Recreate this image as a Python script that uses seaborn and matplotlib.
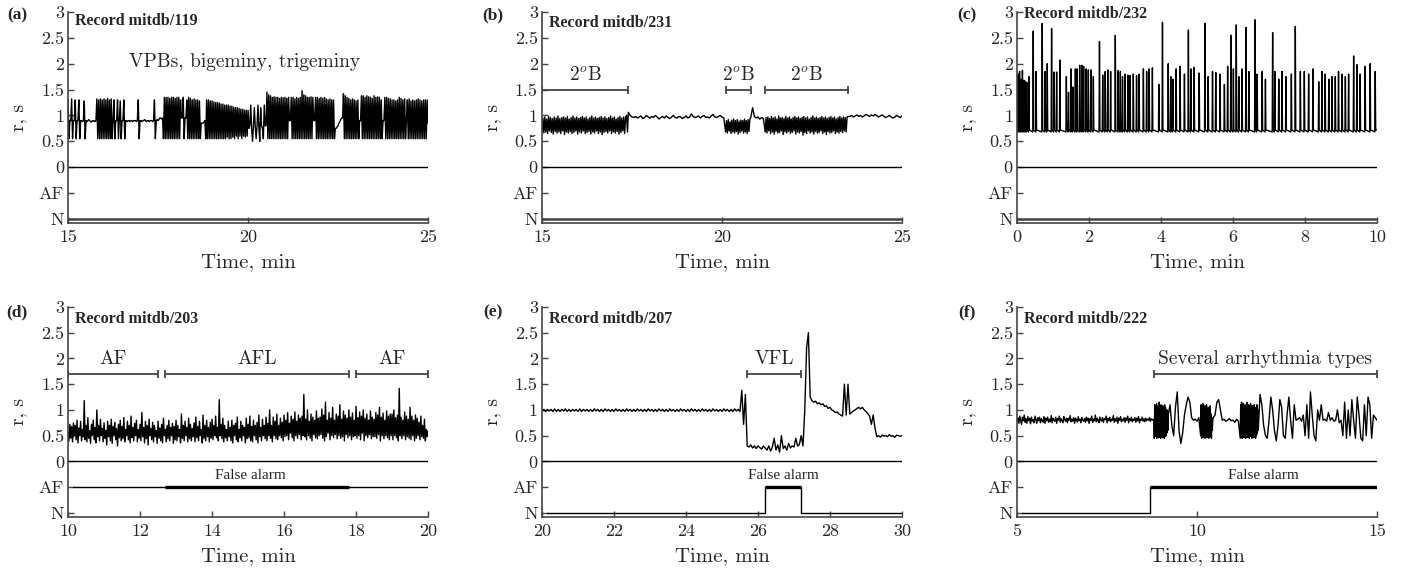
import numpy as np
import matplotlib
matplotlib.use("Agg")
import matplotlib.pyplot as plt
import seaborn as sns

# ---------------- datos ----------------
# (a) registro mitdb/119, 15-25 min, un valor RR (s) cada 0.025 min
rr_119 = [1.3, .55, .9, .9, 1.32, .55, .9, .9, 1.3, .55, .9, .9, 1.3, .55, .9, .9, .88, .9, 1.28, .55,
          .9, .88, .9, .92, .9, .88, .87, .9, .89, .9, .88, .9, 1.32, .55, 1.3, .55, 1.32, .55, 1.3, .55,
          1.32, .55, 1.3, .55, 1.33, .55, 1.3, .55, 1.32, .55, .9, 1.3, .55, .9, .9, 1.3, .55, .9, 1.28, .55,
          .9, .9, 1.3, .55, .9, .9, .88, .9, .9, .88, .9, .9, .88, .9, .9, .9, .88, .9, 1.3, .55,
          .9, .9, .88, .9, .9, .92, .9, .88, .9, .9, .88, .9, .9, .9, .88, .9, 1.3, .55, .9, .92,
          .9, .92, .95, .95, .93, .95, .55, 1.35, .55, 1.35, .55, 1.35, .55, 1.33, .55, 1.35, .55, 1.35, .55, 1.33,
          .55, 1.35, .55, 1.35, .55, 1.3, .95, .95, 1.35, .55, .95, .95, 1.3, .55, 1.35, .55, 1.33, .55, 1.3, .55,
          1.32, .55, 1.3, .55, 1.3, .55, 1.28, .55, .85, .85, .85, .87, .9, .55, 1.3, .55, 1.3, .55, 1.28, .55,
          1.28, .55, 1.26, .55, 1.25, .55, 1.25, .55, 1.24, .55, 1.22, .55, 1.22, .55, 1.2, .55, 1.2, .58, 1.2, .55,
          1.18, .55, 1.18, .58, 1.16, .55, 1.15, .6, 1.15, .55, 1.14, .6, 1.12, .55, 1.12, .6, 1.1, .58, 1.1, .6,
          1.1, .75, .8, 1.2, .75, .5, .8, 1.15, .78, .55, .8, 1.2, .78, .5, 1.15, .8, .75, .55, 1.2, .8,
          .8, 1.45, .55, 1.4, .55, 1.38, .55, 1.35, .55, 1.36, .55, 1.35, .55, 1.35, .55, 1.33, .55, 1.35, .55, 1.34,
          .55, 1.35, .55, 1.33, .55, 1.35, .9, .9, 1.35, .55, 1.35, .55, 1.32, .55, 1.35, .55, 1.33, .55, 1.35, .55,
          1.48, .55, 1.4, .55, 1.38, .55, 1.35, .55, 1.35, .55, 1.36, .55, 1.35, .9, .9, 1.35, .55, 1.35, .55, 1.33,
          .55, 1.35, .55, 1.33, .55, 1.35, .55, 1.32, .55, 1.3, .55, 1.32, .55, 1.3, .55, 1.3, .55, .75, .75, .78,
          .8, .85, .88, .92, .95, .95, 1.42, .55, 1.38, .55, 1.35, .55, 1.33, .55, 1.3, .55, 1.32, .55, 1.3, .55,
          1.28, .55, 1.3, .55, .9, .9, 1.38, .55, 1.38, .55, 1.35, .55, 1.38, .55, 1.36, .55, 1.35, .55, 1.33, .55,
          1.38, .55, 1.35, .55, 1.36, .55, 1.35, .55, 1.3, .55, .9, .9, 1.35, .55, 1.35, .55, 1.33, .55, 1.32, .55,
          1.3, .55, 1.3, .55, 1.28, .55, 1.3, .55, 1.35, .55, 1.33, .55, 1.3, .55, 1.32, .55, .9, 1.3, .55, 1.32,
          .55, 1.28, .55, 1.3, .55, 1.28, .55, 1.3, .55, 1.32, .55, 1.3, .55, 1.28, .55, 1.3, .55, 1.3, .55, 1.3,
          .85]

# (b) registro mitdb/231: tramos de bloqueo (cada 0.025 min) y ritmo normal (cada 0.05 min)
rr_231_bloq1 = [.7, .95, .66, .97, .68, .93, .65, .98, .7, .96, .67, .94, .64, .97, .69, .95, .66, .99, .68, .94,
                .65, .96, .7, .97, .63, .95, .68, .98, .66, .93, .69, .96, .65, .99, .67, .95, .7, .97, .64, .94,
                .68, .96, .66, .98, .7, .95, .65, .97, .67, .93, .69, .96, .64, .99, .68, .95, .66, .97, .7, .94,
                .65, .96, .68, .98, .63, .95, .67, .97, .69, .94, .66, .96, .7, .99, .65, .95, .68, .97, .66, .93,
                .69, .96, .64, .98, .67, .95, .7, .97, .65, .96, 1.0, .68]
rr_231_norm1 = [1.06, 1.0, .97, .96, .98, .95, .97, .99, .94, .96, 1.0, .97, .95, .98, .96, 1.0,
                .97, .93, .96, .98, .95, .99, .96, .94, .97, 1.0, .96, .95, .98, .97, .94, .96,
                .99, .95, .97, 1.03, .98, .96, .97, .99, .95, .98, 1.0, .96, .97, .95, .99, 1.02,
                .97, .96, .98, 1.0, .97, .95]
rr_231_bloq2 = [.68, .9, .66, .92, .7, .88, .65, .91, .68, .93, .66, .9, .69, .92, .64, .89, .67, .91, .7, .9,
                .66, .93, .68, .9, .65, .92, .69, .93]
rr_231_norm2 = [.96, 1.15, .98, .95, .97, .93, .96, .94]
rr_231_bloq3 = [.68, .96, .66, .97, .7, .94, .65, .98, .68, .95, .64, .97, .69, .93, .66, .99, .67, .95, .7, .96,
                .63, .94, .68, .98, .66, .95, .69, .97, .65, .93, .67, .96, .7, .98, .64, .95, .68, .97, .66, .94,
                .69, .96, .62, .98, .67, .95, .65, .97, .7, .93, .66, .96, .68, .99, .64, .95, .69, .97, .66, .94,
                .67, .96, .7, .98, .65, .95, .68, .97, .63, .94, .69, .96, .66, .98, .67, .95, .7, .97, .65, .93,
                .68, .96, .66, .98, .69, .95, .67, .97, .7, .96, .68, .97, .98]
rr_231_norm3 = [.98, 1.0, .97, .99, 1.01, .98, 1.0, .97, .99, 1.02, 1.0, .98, 1.01, .99, 1.02,
                1.0, .97, .99, 1.01, .98, .96, .98, 1.0, .97, .95, .97, 1.0, .98, .96, .99]

# (c) registro mitdb/232, 0-10 min: pausas largas (min, s) sobre un ritmo de base
pausa_t_232 = [.03, .07, .11, .15, .19, .23, .27, .33, .45, .53, .7, .78, .84, .96, 1.03,
               1.1, 1.19, 1.37, 1.43, 1.5, 1.55, 1.62, 1.67, 1.74, 1.8, 1.85, 1.92, 1.98,
               2.05, 2.12, 2.29, 2.38, 2.45, 2.52, 2.6, 2.73, 2.81, 2.87, 2.93, 3.0, 3.08,
               3.14, 3.23, 3.32, 3.39, 3.51, 3.6, 3.67, 3.76, 3.94, 4.04, 4.2, 4.27, 4.33,
               4.42, 4.53, 4.65, 4.76, 4.83, 4.92, 5.06, 5.22, 5.31, 5.43, 5.52, 5.64, 5.76,
               5.85, 5.94, 6.01, 6.09, 6.16, 6.25, 6.36, 6.44, 6.61, 6.67, 6.81, 6.9, 7.1,
               7.16, 7.27, 7.36, 7.47, 7.62, 7.73, 7.87, 7.98, 8.1, 8.22, 8.38, 8.47, 8.56,
               8.66, 8.75, 8.84, 8.93, 9.03, 9.12, 9.21, 9.35, 9.44, 9.53, 9.67, 9.81, 9.95]
pausa_rr_232 = [1.8, 1.85, 1.7, 1.87, 1.68, 1.66, 1.64, 1.75, 2.63, 1.85, 2.78, 1.85, 2.0,
                2.68, 1.84, 1.84, 2.07, 1.75, 1.45, 1.9, 1.55, 1.9, 1.9, 1.97, 1.97, 1.95,
                1.9, 1.88, 1.88, 1.75, 2.43, 1.78, 1.85, 1.88, 1.85, 2.55, 1.87, 1.85, 1.75,
                1.8, 1.78, 1.77, 1.8, 1.77, 1.8, 1.9, 1.85, 1.9, 1.92, 1.6, 2.8, 2.0, 1.75,
                1.7, 1.9, 1.95, 1.8, 2.65, 1.9, 1.93, 1.82, 2.78, 1.75, 1.85, 1.83, 1.8, 1.6,
                1.95, 2.55, 1.9, 2.75, 1.75, 1.9, 2.7, 1.85, 2.85, 1.8, 1.85, 1.7, 2.6, 1.85,
                1.7, 1.85, 1.75, 1.8, 2.72, 1.85, 1.85, 1.8, 1.9, 1.65, 1.85, 1.8, 1.7, 1.75,
                1.75, 1.85, 1.8, 1.75, 1.8, 2.15, 1.98, 1.8, 1.95, 2.0, 1.85]
base_rr_232 = 0.72
corto_rr_232 = 0.68

# (d) registro mitdb/203, 10-20 min, cada 0.025 min
rr_203 = [.6, .4, .72, .45, .68, .38, .75, .5, .7, .42, .8, .36, .65, .5, .78, .4, .62, .48, 1.18, .42,
          .7, .38, .85, .45, .6, .35, .72, .5, .8, .42, .66, .36, 1.0, .48, .7, .4, .82, .5, .64, .38,
          .75, .45, .6, .32, .78, .48, .7, .4, .82, .35, .68, .5, .76, .42, .64, .3, .72, .46, .8, .4,
          .68, .44, .85, .38, .62, .5, .78, .42, .7, .36, .88, .46, .66, .4, .74, .5, .8, .38, .62, .45,
          .72, .4, .95, .48, .66, .36, .78, .44, .7, .32, .82, .5, .64, .42, .76, .38, .7, .48, .6, .35,
          .78, .45, .65, .4, .72, .36, .84, .5, .62, .38, .7, .44, .8, .4, .66, .5, .74, .35, .68, .42,
          .8, .4, .7, .48, .62, .36, .92, .45, .7, .4, .78, .5, .66, .38, .84, .44, .72, .4, .64, .48,
          .75, .38, .86, .46, .68, .4, .78, .5, .62, .36, .9, .44, .7, .4, .8, .48, .66, .38, .76, .45,
          .82, .42, .7, .5, .88, .46, .66, .4, 1.2, .5, .72, .44, .84, .38, .7, .46, .62, .4, .78, .48,
          .66, .4, .8, .36, .7, .5, .74, .42, .86, .38, .62, .46, .78, .4, .7, .5, .66, .36, .84, .44,
          .72, .46, .88, .4, .68, .38, .8, .5, .7, .42, .76, .36, .9, .48, .66, .4, .82, .5, .7, .44,
          .86, .4, .74, .5, 1.0, .45, .7, .38, .86, .5, .78, .44, .92, .42, .7, .5, .84, .46, .76, .4,
          .9, .48, .8, .5, .95, .42, .74, .55, .88, .46, .82, .4, .96, .5, .78, .45, .9, .52, .84, .42,
          .88, .5, 1.3, .48, .82, .42, 1.0, .5, .78, .45, .92, .4, .86, .52, .8, .46, .98, .44, .84, .5,
          .86, .52, 1.02, .45, .9, .4, 1.15, .48, .8, .55, .95, .42, .84, .5, 1.05, .46, .8, .52, .92, .44,
          .88, .5, 1.1, .45, .82, .48, .98, .4, .9, .52, .84, .46, 1.0, .5, .86, .42, .94, .48, .8, .5,
          1.07, .45, .85, .5, .96, .42, .88, .55, 1.0, .4, .84, .5, .92, .46, .8, .52, .98, .44, .86, .48,
          .82, .48, .95, .45, .9, .52, 1.05, .4, .86, .5, .94, .44, .8, .5, .98, .46, .88, .42, .92, .5,
          .92, .42, 1.0, .5, .85, .46, .9, .4, 1.42, .5, .86, .44, .8, .5, .96, .42, .88, .48, .82, .45,
          1.05, .42, .88, .5, .8, .4, .9, .45, .84, .5, .76, .42, .88, .48, .7, .45, .82, .4, .62, .48,
          .6]

# (e) registro mitdb/207, 20-30 min, cada 0.05 min
rr_207 = [.97, 1.01, .97, 1.01, .98, 1.01, .97, 1.02, .97, 1.01, .97, 1.01, .98, 1.02,
          .97, 1.01, .97, 1.01, .98, 1.01, .97, 1.02, .97, 1.01, .98, 1.01, .97, 1.01,
          .97, 1.02, .98, 1.01, .97, 1.01, .97, 1.02, .98, 1.01, .97, 1.01, .97, 1.02,
          .98, 1.01, .97, 1.01, .97, 1.02, .98, 1.01, .97, 1.01, .97, 1.02, .98, 1.01,
          .97, 1.01, .97, 1.02, .98, 1.01, .97, 1.01, .97, 1.02, .98, 1.01, .97, 1.01,
          .97, 1.02, .98, 1.01, .97, 1.01, .97, 1.02, .98, 1.01, .97, 1.01, .97, 1.02,
          .98, 1.01, .97, 1.01, .97, 1.02, .98, 1.01, .97, 1.01, .97, 1.02, .98, 1.01,
          .97, 1.01, .97, 1.02, .98, 1.01, .97, 1.01, .97, 1.02, .98, 1.01, .97,
          1.38, .72, 1.3, .3,
          .28, .32, .26, .3, .25, .3, .27, .24, .3, .26, .22, .3, .2, .28, .45, .22,
          .32, .18, .5, .25, .3, .22, .35, .26, .3, .28, .45, .3, .33, .5, .3,
          1.0, 2.2, 2.5, 1.25,
          1.18, 1.15, 1.17, 1.12, 1.14, 1.1, 1.12, 1.07, 1.08, 1.03, 1.05, 1.0, .98,
          .95, .96, .92, .9, .88,
          1.5, .9, 1.5, .92,
          .95, .98, 1.0, 1.03, 1.05, 1.02, 1.05, 1.0, .97,
          .93, .88, .72, .9, .65,
          .48, .5, .47, .51, .49, .5, .48, .52, .49, .5, .47, .51, .5, .49, .5]

# (f) registro mitdb/222: ritmo de base (cada 0.025 min), rachas densas (cada 0.0125 min)
#     y tramos lentos (cada 0.05 min)
rr_222_base = [.78, .85, .74, .88, .8, .72, .86, .79, .9, .76, .83, .74, .87, .79, .84, .73, .86, .78, .81, .75,
               .88, .8, .74, .85, .79, .86, .75, .83, .8, .76, .87, .74, .84, .79, .86, .76, .82, .77, .89, .75,
               .84, .8, .78, .86, .74, .83, .8, .88, .76, .83, .79, .75, .87, .81, .78, .84, .75, .84, .8, .89,
               .77, .82, .78, .85, .74, .84, .8, .77, .87, .79, .82, .75, .85, .8, .78, .83, .76, .86, .79, .84,
               .74, .83, .8, .88, .76, .82, .79, .9, .77, .84, .8, .75, .86, .8, .78, .85, .76, .83, .81, .88,
               .75, .84, .79, .86, .77, .82, .8, .89, .76, .83, .78, .86, .74, .84, .8, .87, .77, .82, .79, .85,
               .76, .84, .8, .88, .75, .83, .79, .86, .77, .82, .8, .85, .76, .84, .79, .87, .75, .82, .8, .86,
               .78, .83, .77, .84, .79, .82, .8, .85, .78, .83, .8, .82]
rr_222_racha1 = [.8, .45, 1.1, .5, 1.05, .48, 1.12, .45, 1.0, .5, 1.08, .46, 1.15, .5, .95, .45, 1.1,
                 .52, 1.02, .46, 1.08, .5, .98, .45, 1.1, .48, 1.05, .5, .9, .55, 1.0, .6, .9]
rr_222_lento1 = [1.1, .7, .5, 1.05, 1.35, .6, .35, .55, .9, 1.1, 1.25, 1.15, .85, .8, .82, .78, .85]
rr_222_racha2 = [.5, 1.1, .45, 1.05, .5, 1.12, .46, .98, .5, 1.08, .45, 1.02, .52, 1.1, .46, .95, .5,
                 1.05, .45, 1.0, .5, 1.08, .48, .92, .45, .85, .6, .8, .85]
rr_222_lento2 = [.9, 1.15, 1.2, 1.0, .8, .82, .78, .8, .83, .79, .8, .76, .82, .78]
rr_222_racha3 = [.45, 1.1, .48, 1.15, .45, 1.05, .5, 1.12, .46, 1.0, .5, 1.1, .45, 1.08, .52, 1.15, .46,
                 1.02, .5, 1.1, .45, 1.05, .48, 1.12, .5, .98, .45, 1.08, .5, 1.0, .46, 1.1, .5, 1.05,
                 .45, .95, .5, 1.1, .55, 1.0, .6]
rr_222_lento3 = [1.3, 1.1, .7, .5, .45, .8, 1.25, 1.0, .6, .4, .7, 1.2, 1.05, .5, .45, .9, 1.25, .8,
                 .45, 1.1, .8, .82, .85, .78, .9, .5, 1.1, .45, 1.35, .9, .5, .4, 1.0, .8, 1.1, .8,
                 .82, .78, .95, .8, .85, .78, .8, 1.0, .75, .8, .5, 1.15, .45, 1.0, .5, 1.2, .8, .45,
                 1.25, .9, .45, .4, 1.1, .5, 1.25, 1.1, .45, .9, .85, .8]

# salida del detector (N = -1, AF = -0.5) como escalones
det_t_203 = [10.15, 20]
det_v_203 = [-0.5, -0.5]
det_t_207 = [20.15, 26.2, 26.2, 27.2, 27.2, 30]
det_v_207 = [-1, -1, -0.5, -0.5, -1, -1]
det_t_222 = [5.15, 8.7, 8.7, 15]
det_v_222 = [-1, -1, -0.5, -0.5]
# tramos de falsa alarma (inicio, fin)
falsa_203 = (12.7, 17.8)
falsa_207 = (26.2, 27.2)
falsa_222 = (8.7, 15)

# anotaciones de ritmo: (inicio, fin, etiqueta)
ritmos_231 = [(15, 17.4, r"2$^o$B"), (20.1, 20.8, r"2$^o$B"), (21.2, 23.5, r"2$^o$B")]
ritmos_203 = [(10, 12.5, "AF"), (12.7, 17.8, "AFL"), (18.0, 20, "AF")]
ritmos_207 = [(25.7, 27.2, "VFL")]
ritmos_222 = [(8.8, 15, "Several arrhythmia types")]

# ---------------- estilo ----------------
sns.set_style("ticks")
plt.rcParams["font.family"] = ["cmr10", "DejaVu Serif"]
plt.rcParams["mathtext.fontset"] = "cm"
plt.rcParams["axes.formatter.use_mathtext"] = True

gris = "#444444"
fig = plt.figure(figsize=(14.03, 5.74), dpi=100)

anchos = [0.0485, 0.3863, 0.7249]
filas = [(0.6115, 0.3676), (0.0993, 0.3659)]


def serie_tramos(tramos):
    """Une tramos (inicio, fin, valores) muestreados de forma uniforme."""
    xs = np.concatenate([np.linspace(t0, t1, len(v)) for t0, t1, v in tramos])
    ys = np.concatenate([np.array(v, dtype=float) for _, _, v in tramos])
    return xs, ys


def serie_pausas(t0, t1, tiempos, alturas):
    xs, ys = [t0], [base_rr_232]
    for t, h in zip(tiempos, alturas):
        xs += [t - 0.012, t, t + 0.012]
        ys += [corto_rr_232, h, base_rr_232]
    xs.append(t1)
    ys.append(base_rr_232)
    return np.array(xs), np.array(ys)


paneles = [
    dict(letra="(a)", reg="119", xlim=(15, 25), ticks=[15, 20, 25],
         serie=serie_tramos([(15, 25, rr_119)]),
         det=([15, 25], [-1, -1]), falsa=None, ritmos=[], y_ritmo=1.5, tit_y=0.957),
    dict(letra="(b)", reg="231", xlim=(15, 25), ticks=[15, 20, 25],
         serie=serie_tramos([(15, 17.375, rr_231_bloq1), (17.4, 20.05, rr_231_norm1),
                             (20.1, 20.775, rr_231_bloq2), (20.8, 21.15, rr_231_norm2),
                             (21.2, 23.5, rr_231_bloq3), (23.55, 25, rr_231_norm3)]),
         det=([15, 25], [-1, -1]), falsa=None, ritmos=ritmos_231, y_ritmo=1.5, tit_y=0.948),
    dict(letra="(c)", reg="232", xlim=(0, 10), ticks=[0, 2, 4, 6, 8, 10],
         serie=serie_pausas(0, 10, pausa_t_232, pausa_rr_232),
         det=([0, 10], [-1, -1]), falsa=None, ritmos=[], y_ritmo=1.5, tit_y=0.99),
    dict(letra="(d)", reg="203", xlim=(10, 20), ticks=[10, 12, 14, 16, 18, 20],
         serie=serie_tramos([(10, 20, rr_203)]),
         det=(det_t_203, det_v_203), falsa=falsa_203, ritmos=ritmos_203, y_ritmo=1.7, tit_y=0.944),
    dict(letra="(e)", reg="207", xlim=(20, 30), ticks=[20, 22, 24, 26, 28, 30],
         serie=serie_tramos([(20, 30, rr_207)]),
         det=(det_t_207, det_v_207), falsa=falsa_207, ritmos=ritmos_207, y_ritmo=1.7, tit_y=0.944),
    dict(letra="(f)", reg="222", xlim=(5, 15), ticks=[5, 10, 15],
         serie=serie_tramos([(5, 8.775, rr_222_base), (8.8, 9.2, rr_222_racha1),
                             (9.25, 10.05, rr_222_lento1), (10.1, 10.45, rr_222_racha2),
                             (10.5, 11.15, rr_222_lento2), (11.2, 11.7, rr_222_racha3),
                             (11.75, 15, rr_222_lento3)]),
         det=(det_t_222, det_v_222), falsa=falsa_222, ritmos=ritmos_222, y_ritmo=1.7, tit_y=0.944),
]

for k, p in enumerate(paneles):
    fila, col = divmod(k, 3)
    bottom, alto = filas[fila]
    ax = fig.add_axes([anchos[col], bottom, 0.2566, alto])

    x, y = p["serie"]
    sns.lineplot(x=x, y=y, ax=ax, color="k", lw=1.0, estimator=None, sort=False)
    ax.axhline(0, color="k", lw=1.0)

    dt, dv = p["det"]
    sns.lineplot(x=dt, y=dv, ax=ax, color="k" if p["falsa"] else gris,
                 lw=1.0 if p["falsa"] else 1.8, estimator=None, sort=False)
    if p["falsa"]:
        f0, f1 = p["falsa"]
        ax.plot([f0, f1], [-0.5, -0.5], color="k", lw=2.4, solid_capstyle="butt")
        ax.text((f0 + f1) / 2 if p["reg"] != "203" else 15.07, -0.28, "False alarm",
                ha="center", va="center", fontsize=11, family="Liberation Serif")

    for r0, r1, etiqueta in p["ritmos"]:
        ax.plot([r0, r1], [p["y_ritmo"], p["y_ritmo"]], color=gris, lw=1.3,
                marker="|", markersize=6, markeredgewidth=1.3)
        xc = (r0 + r1) / 2 if p["reg"] != "222" else 11.9
        ax.text(xc, p["y_ritmo"] + 0.28, etiqueta, ha="center", va="center", fontsize=14)

    if p["reg"] == "119":
        ax.text(19.9, 2.03, "VPBs, bigeminy, trigeminy", ha="center", va="center", fontsize=14)

    ax.text(0.02, p["tit_y"], "Record mitdb/" + p["reg"], transform=ax.transAxes,
            ha="left", va="center", fontsize=11.5, fontweight="bold", family="Liberation Serif")

    ax.set_xlim(*p["xlim"])
    ax.set_ylim(-1.08, 3)
    ax.set_xticks(p["ticks"])
    ax.set_xticklabels([str(t) for t in p["ticks"]])
    ax.set_yticks([-1, -0.5, 0, 0.5, 1, 1.5, 2, 2.5, 3])
    ax.set_yticklabels(["N", "AF", "0", "0.5", "1", "1.5", "2", "2.5", "3"])
    ax.tick_params(direction="in", length=4, width=1, color=gris, labelsize=13, pad=3)
    ax.tick_params(axis="x", pad=5)
    for lado in ["top", "right"]:
        ax.spines[lado].set_visible(False)
    for lado in ["left", "bottom"]:
        ax.spines[lado].set_color(gris)
        ax.spines[lado].set_linewidth(1.2)
    ax.set_xlabel("Time, min", fontsize=15, labelpad=6)
    ax.set_ylabel("r, s", fontsize=14, labelpad=8)

    lx = [0.012, 0.351, 0.689][col]
    ly = [0.974, 0.456][fila]
    fig.text(lx, ly, p["letra"], ha="center", va="center", fontsize=12.5,
             fontweight="bold", family="Liberation Serif")

fig.savefig("out.png", dpi=100)
plt.close(fig)
